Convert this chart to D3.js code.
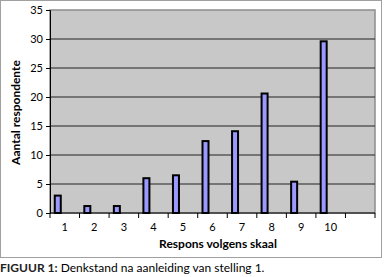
<!DOCTYPE html>
<html lang="en">
<head>
    <meta charset="UTF-8">
    <title>Figuur 1</title>
    <script src="https://cdn.jsdelivr.net/npm/d3@7/dist/d3.min.js"></script>
    <style>
        body { margin: 0; background: #fff; }
        svg { display: block; font-family: Lato, "Open Sans", sans-serif; }
    </style>
</head>
<body>
    <script>
        // data
        let categories = ['1', '2', '3', '4', '5', '6', '7', '8', '9', '10', ''];
        let values = [3, 1.2, 1.2, 6, 6.5, 12.4, 14.1, 20.6, 5.4, 29.6, null];
        let yTicks = [0, 5, 10, 15, 20, 25, 30, 35];

        let width = 386, height = 277;
        let plot = { left: 50, top: 10, right: 375, bottom: 213 };

        let svg = d3.select('body').append('svg')
                    .attr('width', width)
                    .attr('height', height);

        // outer chart frame
        svg.append('rect')
           .attr('x', 0.5).attr('y', 0.5)
           .attr('width', 381).attr('height', 257)
           .attr('fill', '#fff')
           .attr('stroke', '#a0a0a0');

        let x = d3.scaleBand()
                  .domain(categories)
                  .range([plot.left, plot.right]);
        let y = d3.scaleLinear()
                  .domain([0, 35])
                  .range([plot.bottom, plot.top]);

        // plot background
        svg.append('rect')
           .attr('x', plot.left).attr('y', plot.top)
           .attr('width', plot.right - plot.left)
           .attr('height', plot.bottom - plot.top)
           .attr('fill', '#c8c8c8')
           .attr('stroke', '#8c8c8c')
           .attr('stroke-width', 1.5);

        // gridlines
        svg.append('g')
           .selectAll('line')
           .data(yTicks.filter(d => d > 0 && d < 35))
           .enter().append('line')
           .attr('x1', plot.left).attr('x2', plot.right)
           .attr('y1', d => y(d)).attr('y2', d => y(d))
           .attr('stroke', '#222').attr('stroke-width', 1);

        // bars (sit left of the category centre, like the excel original)
        let barW = 6;
        svg.append('g')
           .selectAll('rect')
           .data(categories.map((c, i) => ({ c: c, v: values[i] })).filter(d => d.v != null))
           .enter().append('rect')
           .attr('x', d => x(d.c) + x.bandwidth() / 2 - 7 - barW / 2)
           .attr('y', d => y(d.v))
           .attr('width', barW)
           .attr('height', d => y(0) - y(d.v))
           .attr('fill', '#9999ff')
           .attr('stroke', '#000')
           .attr('stroke-width', 2);

        // y axis
        let yAxis = svg.append('g')
                       .attr('transform', `translate(${plot.left},0)`)
                       .call(d3.axisLeft(y).tickValues(yTicks).tickSize(4).tickPadding(3));
        yAxis.selectAll('text').attr('font-size', 11).attr('fill', '#000').attr('font-family', 'Lato, sans-serif');
        yAxis.selectAll('line, path').attr('stroke', '#000');

        // x axis - ticks on category boundaries
        let xg = svg.append('g').attr('transform', `translate(0,${plot.bottom})`);
        xg.append('line')
          .attr('x1', plot.left).attr('x2', plot.right)
          .attr('stroke', '#000');
        xg.selectAll('.tk')
          .data(categories.map(c => x(c)).concat([plot.right]))
          .enter().append('line')
          .attr('x1', d => d).attr('x2', d => d)
          .attr('y1', 0).attr('y2', 5)
          .attr('stroke', '#000');
        xg.selectAll('text')
          .data(categories)
          .enter().append('text')
          .attr('x', d => x(d) + x.bandwidth() / 2)
          .attr('y', 18)
          .attr('text-anchor', 'middle')
          .attr('font-size', 11)
          .text(d => d);

        // axis titles
        svg.append('text')
           .attr('x', 218).attr('y', 248)
           .attr('text-anchor', 'middle')
           .attr('font-size', 12).attr('font-weight', 'bold')
           .text('Respons volgens skaal');
        svg.append('text')
           .attr('transform', `translate(20,${(plot.top + plot.bottom) / 2 + 1}) rotate(-90)`)
           .attr('text-anchor', 'middle')
           .attr('font-size', 12).attr('font-weight', 'bold')
           .text('Aantal respondente');

        // caption
        let cap = svg.append('text')
                     .attr('x', 0).attr('y', 272)
                     .attr('font-size', 12);
        cap.append('tspan').attr('font-weight', 'bold').attr('fill', '#222').text('FIGUUR 1:');
        cap.append('tspan').text(' Denkstand na aanleiding van stelling 1.');
    </script>
</body>
</html>
